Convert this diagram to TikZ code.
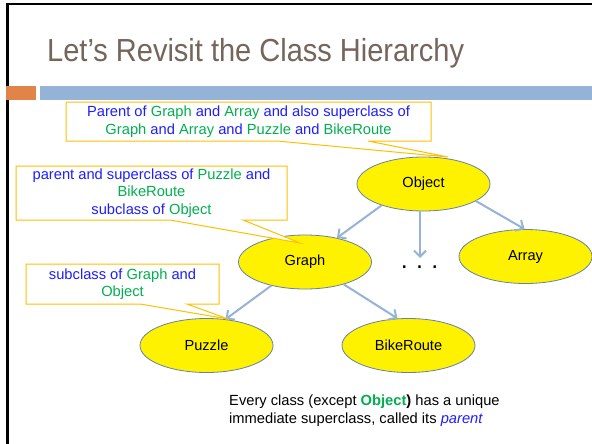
\documentclass[tikz,border=0pt]{standalone}
\usepackage{fontspec}
\setmainfont{Liberation Sans}
\usetikzlibrary{shapes.geometric,arrows.meta}
\definecolor{titlec}{RGB}{117,101,91}
\definecolor{barorange}{RGB}{224,132,74}
\definecolor{barblue}{RGB}{149,179,215}
\definecolor{calloutc}{RGB}{255,192,0}
\definecolor{txtblue}{RGB}{30,30,255}
\definecolor{txtgreen}{RGB}{0,176,80}
\definecolor{ellborder}{RGB}{100,130,170}
\definecolor{arrc}{RGB}{149,179,215}
\newcommand{\gr}[1]{\textcolor{txtgreen}{#1}}
\newcommand{\bl}[1]{\textcolor{txtblue}{#1}}
\tikzset{
  cls/.style={ellipse, draw=ellborder, line width=0.8pt, fill=yellow, minimum width=133pt, minimum height=54pt, inner sep=0pt, font=\fontsize{14.6}{17}\selectfont},
  arr/.style={draw=arrc, line width=2pt, -{Straight Barb[length=6pt,width=12pt]}},
  callout/.style={draw=calloutc, line width=1pt, fill=white},
  ctext/.style={align=center, inner sep=0pt, text=txtblue, font=\fontsize{14.7}{17.5}\selectfont},
}
\begin{document}
\begin{tikzpicture}[x=1pt,y=-1pt]
\useasboundingbox (0,0) rectangle (592,444);
\fill[white] (0,0) rectangle (592,444);
% frame
\draw[black, line width=2.4pt] (7.5,4) -- (592,4);
\draw[black, line width=2.4pt] (7.5,3) -- (7.5,444);
% title
\node[anchor=base west, inner sep=0pt, text=titlec, font=\fontsize{29}{32}\selectfont, yscale=1.1] (title) at (47,62) {Let’s Revisit the Class Hierarchy};
% bars
\fill[barorange] (6,86) rectangle (36,100);
\fill[barblue] (40,86) rectangle (592,100);
% class nodes
\node[cls] (obj) at (423.5,184) {Object};
\node[cls] (graph) at (305,262) {Graph};
\node[cls] (array) at (525.5,256.5) {Array};
\node[cls] (puzzle) at (206.5,345.5) {Puzzle};
\node[cls] (bike) at (408.5,345.5) {BikeRoute};
\node[inner sep=0pt, anchor=base, font=\fontsize{25}{25}\selectfont] (dots) at (419.5,268) {.\,\,.\,\,.};
\coordinate (dotstop) at (420,258);
% arrows
\draw[arr] (obj.207) -- (graph.37);
\draw[arr] (obj.south -| dotstop) -- (dotstop);
\draw[arr] (obj.342) -- (array.92);
\draw[arr] (graph.215) -- (puzzle.54);
\draw[arr] (graph.330) -- (bike.112);
% callout 1
\draw[callout] (66,102) -- (431,102) -- (431,141) -- (368,141) -- (448,157) -- (277,141) -- (66,141) -- cycle;
\node[ctext] (c1) at (248.5,121.5) {Parent of \gr{Graph} and \gr{Array} and also superclass of\\ \gr{Graph} and \gr{Array} and \gr{Puzzle} and \gr{BikeRoute}};
% callout 2
\draw[callout] (16,166) -- (287,166) -- (287,220) -- (243,220) -- (300,243) -- (170,220) -- (16,220) -- cycle;
\node[ctext] (c2) at (151.5,193) {parent and superclass of \gr{Puzzle} and\\ \gr{BikeRoute}\\ subclass of \gr{Object}};
% callout 3
\draw[callout] (26,264) -- (219,264) -- (219,304) -- (187,304) -- (228,319) -- (140,304) -- (26,304) -- cycle;
\node[ctext] (c3) at (122.5,284) {subclass of \gr{Graph} and\\ \gr{Object}};
% bottom text
\node[anchor=base west, align=left, inner sep=0pt, font=\fontsize{14.7}{18}\selectfont] (note) at (229,423) {Every class (except \textbf{\gr{Object})} has a unique\\ immediate superclass, called its \textit{\bl{parent}}};
\end{tikzpicture}
\end{document}
